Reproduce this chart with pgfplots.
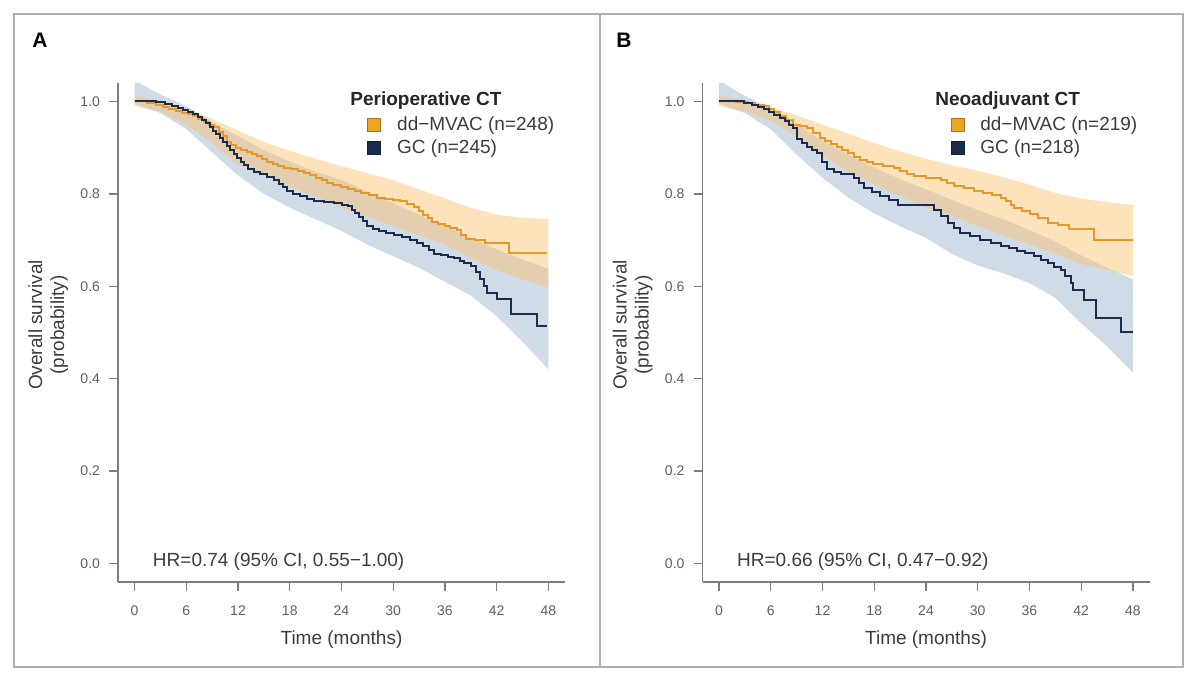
\documentclass[border=0pt]{standalone}
\usepackage{fontspec}
\setmainfont{Liberation Sans}
\usepackage{pgfplots}
\pgfplotsset{compat=1.18}
\definecolor{orline}{RGB}{232,152,40}
\definecolor{orfill}{RGB}{250,196,112}
\definecolor{bline}{RGB}{28,44,80}
\definecolor{bfill}{RGB}{150,175,205}
\definecolor{axgray}{RGB}{125,125,125}
\definecolor{txt}{RGB}{60,60,60}
\definecolor{tickgray}{RGB}{95,95,95}
\definecolor{framec}{RGB}{175,175,175}
\pgfplotsset{kmstyle/.style={
  scale only axis, width=223.5pt, height=249.5pt,
  xmin=-1.92, xmax=49.92, ymin=-0.04, ymax=1.04,
  axis lines*=left,
  axis line style={-, draw=axgray, line width=0.7pt},
  tick align=outside, major tick length=4.5pt,
  tick style={draw=axgray, line width=0.7pt},
  xtick={0,6,12,18,24,30,36,42,48},
  ytick={0,0.2,0.4,0.6,0.8,1.0},
  /pgf/number format/assume math mode=true,
  yticklabel={\pgfmathprintnumber[fixed,fixed zerofill,precision=1]{\tick}},
  ticklabel style={font=\fontsize{7}{8}\selectfont, text=tickgray},
  xticklabel style={yshift=-4pt},
  yticklabel style={xshift=-1pt},
  xlabel={Time (months)},
  xlabel style={at={(axis description cs:0.5,-0.116)}, anchor=center, font=\fontsize{9.5}{11}\selectfont, text=txt},
  ylabel={Overall survival\\(probability)},
  ylabel style={at={(axis description cs:-0.156,0.515)}, anchor=center, align=center, font=\fontsize{9.5}{11}\selectfont, text=txt},
  legend image code/.code={\draw[#1] (0pt,-3.25pt) rectangle (6.5pt,3.25pt);},
  legend style={draw=none, fill=none, inner sep=0pt, anchor=north west,
    font=\fontsize{9.5}{11}\selectfont, text=txt, row sep=0.5pt,
    nodes={inner sep=1pt, text height=7pt, text depth=2pt},
    /tikz/every odd column/.append style={column sep=7pt}},
  legend cell align=left,
  clip=true,
}}
\begin{document}
\begin{tikzpicture}
\path (0pt,0pt) rectangle (600pt,338pt);
\draw[framec, line width=1pt] (7pt,4.5pt) rectangle (591.5pt,331pt);
\draw[framec, line width=0.8pt] (300pt,4.5pt) -- (300pt,331pt);
\node[font=\bfseries\fontsize{10.5}{12}\selectfont] at (20pt,318pt) {A};
\node[font=\bfseries\fontsize{10.5}{12}\selectfont] at (312pt,318pt) {B};

% ---------------- Panel A ----------------
\begin{axis}[kmstyle, at={(59pt,47pt)}, anchor=south west,
  legend style={at={(axis description cs:0.557,0.938)}}]
\addplot[fill=bfill, fill opacity=0.45, draw=none, forget plot] coordinates {
(0,1.045) (3,1.015) (6,0.99) (9,0.955) (12,0.925) (15,0.895) (18,0.87) (21,0.848) (24,0.83) (27,0.805) (30,0.78) (33,0.755) (36,0.73) (39,0.705) (42,0.68) (45,0.658) (48,0.638)
(48,0.42) (45,0.48) (42,0.535) (39,0.58) (36,0.61) (33,0.64) (30,0.665) (27,0.69) (24,0.72) (21,0.745) (18,0.77) (15,0.80) (12,0.84) (9,0.89) (6,0.94) (3,0.975) (0,0.995)
} -- cycle;
\addplot[fill=orfill, fill opacity=0.47, draw=none, forget plot] coordinates {
(0,1.015) (3,1.0) (6,0.985) (9,0.962) (12,0.937) (15,0.912) (18,0.893) (21,0.876) (24,0.86) (27,0.845) (30,0.83) (33,0.81) (36,0.79) (39,0.77) (42,0.755) (45,0.748) (48,0.745)
(48,0.597) (45,0.615) (42,0.635) (39,0.66) (36,0.69) (33,0.71) (30,0.73) (27,0.75) (24,0.77) (21,0.795) (18,0.815) (15,0.84) (12,0.862) (9,0.91) (6,0.95) (3,0.978) (0,0.99)
} -- cycle;
\addplot[const plot, draw=orline, line width=1pt, forget plot] coordinates {
(0,1.000) (1.5,0.996) (2.5,0.992) (3.3,0.988) (4.0,0.984) (4.8,0.980) (5.5,0.976) (6.2,0.972) (6.8,0.968) (7.4,0.962) (8.0,0.956) (8.6,0.950) (9.2,0.944) (9.8,0.935) (10.3,0.925) (10.7,0.912) (11.2,0.906) (11.8,0.900) (12.4,0.896) (13.0,0.890) (13.6,0.886) (14.2,0.882) (14.8,0.876) (15.4,0.870) (16.0,0.864) (16.6,0.860) (17.3,0.856) (18.1,0.853) (18.9,0.849) (19.6,0.845) (20.3,0.841) (21.0,0.835) (21.7,0.829) (22.3,0.824) (23.0,0.820) (23.9,0.814) (24.8,0.810) (25.6,0.806) (26.3,0.802) (27.2,0.797) (28.1,0.792) (29.0,0.789) (30.0,0.786) (30.8,0.784) (31.6,0.778) (32.4,0.772) (33.0,0.763) (33.5,0.755) (34.0,0.748) (34.5,0.740) (35.2,0.735) (36.0,0.731) (36.6,0.727) (37.4,0.722) (37.9,0.712) (38.4,0.703) (39.5,0.700) (40.6,0.694) (43.4,0.672) (47.8,0.672)
};
\addplot[const plot, draw=bline, line width=1pt, forget plot] coordinates {
(0,1.000) (2.5,0.998) (3.5,0.994) (4.3,0.990) (5.0,0.986) (5.6,0.982) (6.2,0.978) (6.8,0.972) (7.3,0.966) (7.8,0.960) (8.3,0.953) (8.7,0.945) (9.1,0.937) (9.5,0.929) (9.9,0.920) (10.3,0.912) (10.7,0.903) (11.1,0.895) (11.5,0.886) (11.9,0.878) (12.3,0.870) (12.7,0.862) (13.1,0.853) (13.8,0.848) (14.6,0.842) (15.4,0.837) (16.2,0.831) (16.7,0.822) (17.2,0.814) (17.7,0.806) (18.4,0.800) (19.2,0.795) (20.0,0.790) (20.8,0.784) (22.0,0.782) (23.1,0.781) (24.0,0.777) (24.7,0.773) (25.2,0.765) (25.6,0.758) (26.0,0.750) (26.5,0.741) (27.0,0.730) (27.6,0.725) (28.3,0.720) (29.2,0.716) (30.1,0.712) (31.0,0.707) (32.0,0.701) (32.7,0.694) (33.5,0.687) (34.1,0.679) (34.7,0.669) (35.5,0.667) (36.3,0.664) (37.0,0.662) (37.8,0.655) (38.2,0.651) (39.0,0.643) (39.6,0.630) (40.1,0.615) (40.5,0.600) (40.9,0.586) (42.0,0.573) (43.6,0.539) (46.7,0.514) (47.8,0.514)
};
\addlegendimage{fill=orline!85!yellow, draw=orline!75!black, line width=0.4pt}
\addlegendentry{dd−MVAC (n=248)}
\addlegendimage{fill=bline, draw=bline!70!black, line width=0.4pt}
\addlegendentry{GC (n=245)}
\node[anchor=west, inner sep=0pt, font=\bfseries\fontsize{9.5}{11}\selectfont, text=black!85] at (axis description cs:0.519,0.964) {Perioperative CT};
\node[anchor=west, inner sep=0pt, font=\fontsize{9.5}{11}\selectfont, text=txt] at (axis cs:2.09,0.004) {HR=0.74 (95\% CI, 0.55−1.00)};
\end{axis}

% ---------------- Panel B ----------------
\begin{axis}[kmstyle, at={(351.25pt,47pt)}, anchor=south west,
  legend style={at={(axis description cs:0.554,0.938)}}]
\addplot[fill=bfill, fill opacity=0.45, draw=none, forget plot] coordinates {
(0,1.045) (3,1.012) (6,0.985) (9,0.952) (12,0.915) (15,0.885) (18,0.857) (21,0.832) (24,0.81) (27,0.787) (30,0.765) (33,0.745) (36,0.722) (39,0.697) (42,0.667) (45,0.64) (48,0.615)
(48,0.413) (45,0.47) (42,0.52) (39,0.575) (36,0.607) (33,0.628) (30,0.645) (27,0.67) (24,0.705) (21,0.73) (18,0.758) (15,0.792) (12,0.835) (9,0.885) (6,0.94) (3,0.975) (0,0.995)
} -- cycle;
\addplot[fill=orfill, fill opacity=0.47, draw=none, forget plot] coordinates {
(0,1.015) (3,1.002) (6,0.988) (9,0.97) (12,0.95) (15,0.93) (18,0.91) (21,0.892) (24,0.876) (27,0.862) (30,0.85) (33,0.836) (36,0.82) (39,0.802) (42,0.79) (45,0.782) (48,0.776)
(48,0.622) (45,0.635) (42,0.648) (39,0.67) (36,0.69) (33,0.71) (30,0.73) (27,0.752) (24,0.77) (21,0.795) (18,0.82) (15,0.848) (12,0.882) (9,0.925) (6,0.958) (3,0.978) (0,0.99)
} -- cycle;
\addplot[const plot, draw=orline, line width=1pt, forget plot] coordinates {
(0,1.000) (2.0,0.998) (3.2,0.996) (4.2,0.993) (5.2,0.990) (5.8,0.984) (6.4,0.977) (7.1,0.969) (7.8,0.960) (8.6,0.950) (9.4,0.946) (10.2,0.942) (10.9,0.932) (11.7,0.920) (12.3,0.914) (13.0,0.908) (13.7,0.902) (14.3,0.895) (15.0,0.888) (15.6,0.880) (16.4,0.874) (17.2,0.868) (17.9,0.864) (19.0,0.860) (20.3,0.857) (21.0,0.850) (21.8,0.844) (22.6,0.838) (24.0,0.834) (25.7,0.831) (26.4,0.824) (27.2,0.817) (28.4,0.812) (29.6,0.806) (30.6,0.801) (31.6,0.797) (32.7,0.792) (33.3,0.784) (33.8,0.777) (34.2,0.770) (35.1,0.763) (36.1,0.756) (37.0,0.748) (38.1,0.738) (39.3,0.732) (40.6,0.723) (43.5,0.701) (48.0,0.701)
};
\addplot[const plot, draw=bline, line width=1pt, forget plot] coordinates {
(0,1.000) (2.9,0.997) (3.8,0.993) (4.5,0.988) (5.2,0.983) (5.8,0.977) (6.4,0.971) (7.1,0.965) (7.6,0.958) (8.1,0.950) (8.6,0.943) (9.0,0.918) (9.6,0.910) (10.2,0.902) (10.8,0.895) (11.4,0.888) (11.9,0.870) (12.5,0.853) (13.3,0.847) (14.1,0.842) (15.6,0.835) (16.2,0.824) (16.8,0.813) (17.7,0.804) (18.7,0.795) (19.7,0.786) (20.7,0.777) (23.4,0.777) (24.9,0.766) (25.7,0.752) (26.5,0.738) (27.2,0.727) (28.0,0.716) (29.1,0.708) (30.3,0.701) (31.5,0.694) (32.7,0.687) (33.6,0.682) (34.6,0.677) (35.5,0.671) (36.5,0.665) (37.3,0.658) (38.1,0.651) (38.9,0.642) (39.6,0.636) (40.1,0.622) (40.8,0.608) (41.0,0.593) (42.3,0.571) (43.7,0.532) (46.6,0.502) (48.0,0.502)
};
\addlegendimage{fill=orline!85!yellow, draw=orline!75!black, line width=0.4pt}
\addlegendentry{dd−MVAC (n=219)}
\addlegendimage{fill=bline, draw=bline!70!black, line width=0.4pt}
\addlegendentry{GC (n=218)}
\node[anchor=west, inner sep=0pt, font=\bfseries\fontsize{9.5}{11}\selectfont, text=black!85] at (axis description cs:0.520,0.964) {Neoadjuvant CT};
\node[anchor=west, inner sep=0pt, font=\fontsize{9.5}{11}\selectfont, text=txt] at (axis cs:2.05,0.004) {HR=0.66 (95\% CI, 0.47−0.92)};
\end{axis}
\end{tikzpicture}
\end{document}
